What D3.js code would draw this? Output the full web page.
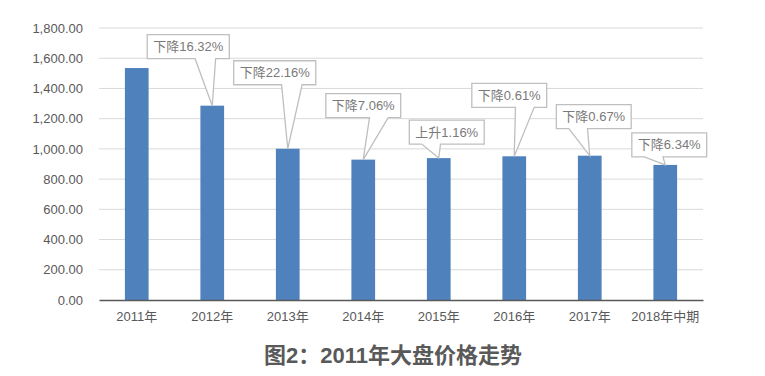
<!DOCTYPE html>
<html lang="zh">
<head>
<meta charset="UTF-8">
<title>2011年大盘价格走势</title>
<script src="https://d3js.org/d3.v7.min.js"></script>
<style>
  body { margin: 0; background: #fff; }
  text { font-family: "Liberation Sans", "Noto Sans CJK SC", sans-serif; }
</style>
</head>
<body>
<div id="chart"></div>
<script>
// data
const years = ["2011年", "2012年", "2013年", "2014年", "2015年", "2016年", "2017年", "2018年中期"];
const prices = [1535, 1286, 1001, 929, 939, 951, 955, 894];
const changeLabels = [null, "下降16.32%", "下降22.16%", "下降7.06%", "上升1.16%", "下降0.61%", "下降0.67%", "下降6.34%"];
const yTicks = [0, 200, 400, 600, 800, 1000, 1200, 1400, 1600, 1800];

// hand placed callouts (box centre / box bottom relative to the bar top)
const calloutDx = [0, -24, -13, 0, 8, -5, 4, 4];
const calloutDy = [0, -47, -64, -42, -14, -49, -27, -8];

const width = 765, height = 376;
const margin = { top: 28, right: 62, bottom: 76, left: 99 };

const svg = d3.select("#chart").append("svg")
    .attr("width", width)
    .attr("height", height);

const x = d3.scaleBand()
    .domain(years)
    .range([margin.left, width - margin.right])
    .paddingInner(0.686)
    .paddingOuter(0.343);

const y = d3.scaleLinear()
    .domain([0, 1800])
    .range([height - margin.bottom, margin.top]);

// gridlines
svg.append("g")
    .selectAll("line")
    .data(yTicks.filter(d => d > 0))
    .enter().append("line")
    .attr("x1", margin.left)
    .attr("x2", width - margin.right)
    .attr("y1", d => y(d))
    .attr("y2", d => y(d))
    .attr("stroke", "#d9d9d9")
    .attr("stroke-width", 1);

// y axis labels
const yAxis = svg.append("g")
    .attr("transform", "translate(" + margin.left + ",0)")
    .call(d3.axisLeft(y).tickValues(yTicks).tickSize(0).tickPadding(16).tickFormat(d3.format(",.2f")));
yAxis.select(".domain").remove();
yAxis.selectAll("text")
    .attr("fill", "#595959")
    .style("font-size", "13px");

// bars
svg.selectAll(".bar")
    .data(prices)
    .enter().append("rect")
    .attr("class", "bar")
    .attr("x", (d, i) => x(years[i]))
    .attr("y", d => y(d))
    .attr("width", x.bandwidth())
    .attr("height", d => y(0) - y(d))
    .attr("fill", "#4f81bd");

// x axis
const xAxis = svg.append("g")
    .attr("transform", "translate(0," + y(0) + ")")
    .call(d3.axisBottom(x).tickSize(0).tickPadding(12));
xAxis.select(".domain")
    .attr("stroke", "#595959")
    .attr("stroke-width", 1.3);
xAxis.selectAll("text")
    .attr("fill", "#595959")
    .style("font-size", "13px");

// callouts
const boxH = 24;
prices.forEach((v, i) => {
    const label = changeLabels[i];
    if (!label) return;
    const tipX = x(years[i]) + x.bandwidth() / 2;
    const tipY = y(v);
    const g = svg.append("g");
    const t = g.append("text")
        .attr("text-anchor", "middle")
        .attr("dy", "0.35em")
        .attr("fill", "#7a7a7a")
        .style("font-size", "13px")
        .text(label);
    const boxW = t.node().getComputedTextLength() + 12;
    const cx = tipX + calloutDx[i];
    const bottom = tipY + calloutDy[i];
    const left = cx - boxW / 2, right = cx + boxW / 2, top = bottom - boxH;
    const f = tipX >= cx ? [7 / 12, 10 / 12] : [2 / 12, 5 / 12];
    const bl = left + boxW * f[0], br = left + boxW * f[1];
    const p = d3.path();
    p.moveTo(left, top);
    p.lineTo(right, top);
    p.lineTo(right, bottom);
    p.lineTo(br, bottom);
    p.lineTo(tipX, tipY);
    p.lineTo(bl, bottom);
    p.lineTo(left, bottom);
    p.closePath();
    g.insert("path", "text")
        .attr("d", p.toString())
        .attr("fill", "#fff")
        .attr("stroke", "#bfbfbf")
        .attr("stroke-width", 1.3);
    t.attr("x", cx).attr("y", top + boxH / 2);
});

// caption
svg.append("text")
    .attr("x", 393)
    .attr("y", 355)
    .attr("dy", "0.35em")
    .attr("text-anchor", "middle")
    .attr("fill", "#595959")
    .style("font-size", "22px")
    .style("font-weight", "bold")
    .text("图2：2011年大盘价格走势");
</script>
</body>
</html>
